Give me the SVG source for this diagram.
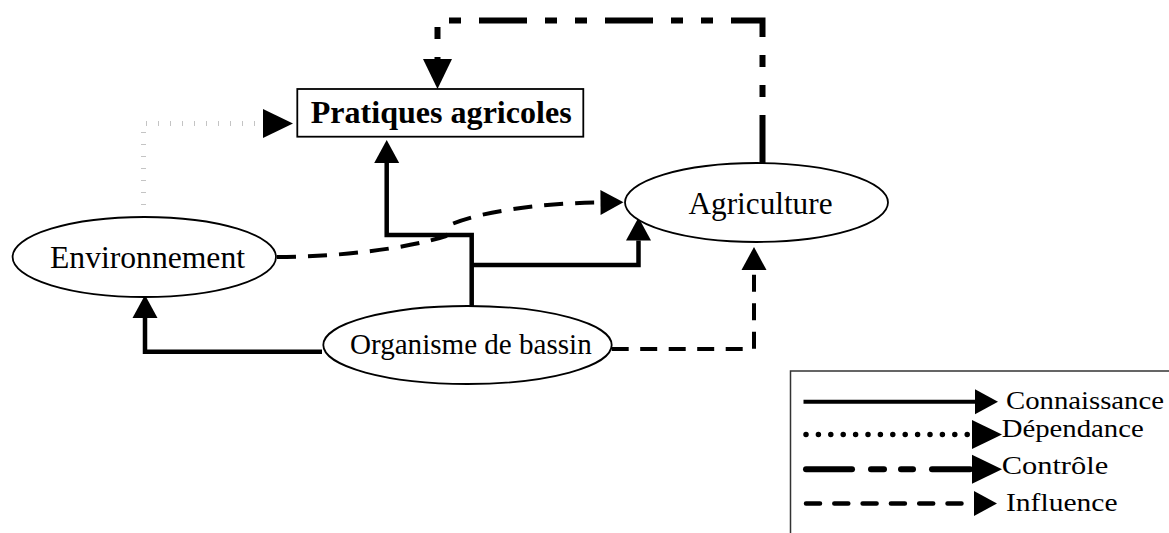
<svg xmlns="http://www.w3.org/2000/svg" width="1169" height="533" viewBox="0 0 1169 533">
<style>
.node{fill:#fff;stroke:#000;stroke-width:1.8}
.lbl{font-family:'Liberation Serif','Times New Roman',Times,serif;fill:#000}
.kn{fill:none;stroke:#000;stroke-width:4.5}
.inf{fill:none;stroke:#000;stroke-width:4;stroke-dasharray:17 11.5}
.ctl{fill:none;stroke:#000;stroke-width:6;stroke-dasharray:48 18 12 18 12 18}
.dep{fill:none;stroke:#c4c4c4;stroke-width:5;stroke-dasharray:1 11}
.leg{font-size:25px}
</style>
<defs>
<marker id="ah" markerUnits="userSpaceOnUse" markerWidth="23" markerHeight="25" viewBox="0 0 23 25" refX="0" refY="12.5" orient="auto" overflow="visible"><path d="M0,0 L23,12.5 L0,25 Z" fill="#000"/></marker>
<marker id="ahL" markerUnits="userSpaceOnUse" markerWidth="30" markerHeight="29" viewBox="0 0 30 29" refX="0" refY="14.5" orient="auto" overflow="visible"><path d="M0,0 L30,14.5 L0,29 Z" fill="#000"/></marker>
</defs>

<g id="connectors">
<path id="c-agri-prat" class="ctl" d="M762.5,163 V20.5 H437.5 V59" marker-end="url(#ahL)"/>
<path id="c-env-prat" class="dep" d="M143.5,205 V123.5 H263" marker-end="url(#ahL)"/>
<path id="c-org-prat" class="kn" d="M471.7,306 V235 H386.7 V163" marker-end="url(#ah)"/>
<path id="c-org-agri" class="kn" d="M471.7,265 H638.5 V240.5" marker-end="url(#ah)"/>
<path id="c-org-env" class="kn" d="M322,351.7 H145 V318" marker-end="url(#ah)"/>
<path id="c-org-agri2" class="inf" d="M611.7,349 H754 V270" marker-end="url(#ah)"/>
<path id="c-env-agri" class="inf" style="stroke-dasharray:19 12" d="M277,257 C340,257 410,248 446,236 C451,233 448,228 452,224 C480,212 540,203 600.5,202.5" marker-end="url(#ah)"/>
</g>

<g id="node-pratiques">
<rect class="node" x="297.3" y="89" width="286" height="47.7" stroke-width="2"/>
<text class="lbl" x="310.7" y="123.4" font-size="32" font-weight="bold" textLength="261" lengthAdjust="spacingAndGlyphs">Pratiques agricoles</text>
</g>
<g id="node-agriculture">
<ellipse class="node" cx="756.5" cy="202.5" rx="131.5" ry="39.5"/>
<text class="lbl" x="688.5" y="214" font-size="31" textLength="144" lengthAdjust="spacingAndGlyphs">Agriculture</text>
</g>
<g id="node-environnement">
<ellipse class="node" cx="144.3" cy="257" rx="131.7" ry="40"/>
<text class="lbl" x="50" y="268.4" font-size="31" textLength="195" lengthAdjust="spacingAndGlyphs">Environnement</text>
</g>
<g id="node-organisme">
<ellipse class="node" cx="467.5" cy="345" rx="144.2" ry="39"/>
<text class="lbl" x="350" y="354" font-size="29" textLength="241.7" lengthAdjust="spacingAndGlyphs">Organisme de bassin</text>
</g>

<g id="legend">
<rect x="790.5" y="371" width="420" height="200" fill="none" stroke="#333" stroke-width="1.5"/>
<path d="M803.5,401.7 H975" stroke="#000" stroke-width="4" fill="none" marker-end="url(#ah)"/>
<path d="M806,434.5 H968" stroke="#000" stroke-width="5.5" stroke-linecap="round" stroke-dasharray="0 12.4" fill="none"/>
<path d="M971.7,434.5 H972" stroke="none" fill="none" marker-end="url(#ahL)"/>
<g stroke="#000" stroke-width="6" stroke-linecap="round" fill="none">
<path d="M806,469.3 H852"/><path d="M871,469.3 H884"/><path d="M901,469.3 H913"/><path d="M932,469.3 H970"/>
</g>
<path d="M971.7,469.3 H972" stroke="none" fill="none" marker-end="url(#ahL)"/>
<path d="M806,503.5 H970" stroke="#000" stroke-width="4.5" stroke-linecap="round" stroke-dasharray="14 14.3" fill="none"/>
<path d="M973.5,503.5 H974" stroke="none" fill="none" marker-end="url(#ah)"/>
<text class="lbl leg" x="1006" y="409.3" textLength="158" lengthAdjust="spacingAndGlyphs">Connaissance</text>
<text class="lbl leg" x="1001.7" y="437" textLength="142" lengthAdjust="spacingAndGlyphs">Dépendance</text>
<text class="lbl leg" x="1001.7" y="474" textLength="106.5" lengthAdjust="spacingAndGlyphs">Contrôle</text>
<text class="lbl leg" x="1006" y="511" textLength="111.5" lengthAdjust="spacingAndGlyphs">Influence</text>
</g>
</svg>
